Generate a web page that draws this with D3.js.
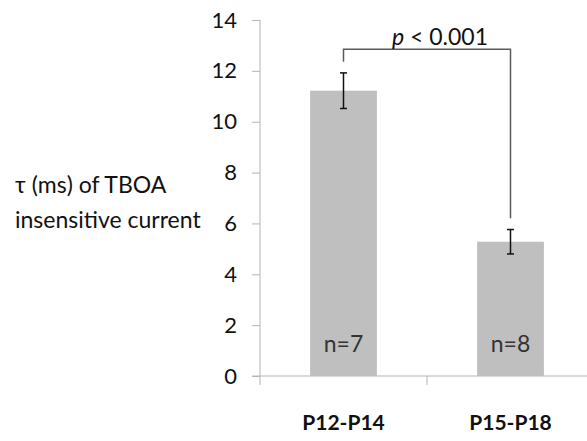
<!DOCTYPE html>
<html>
<head>
<meta charset="utf-8">
<script src="https://cdn.jsdelivr.net/npm/d3@7"></script>
<style>
  body { margin: 0; background: #fff; }
  text { font-family: Lato, "Open Sans", sans-serif; }
</style>
</head>
<body>
<div id="chart"></div>
<script>
const categories = ['P12-P14', 'P15-P18'];
const means = [11.22, 5.28];
const errors = [0.7, 0.48];
const counts = ['n=7', 'n=8'];
const yTicks = [0, 2, 4, 6, 8, 10, 12, 14];
const bracketLevel = 12.85;
const bracketLegEnds = [12.36, 6.2];
const pLabel = '< 0.001';

const width = 587, height = 441;
const barColor = '#bfbfbf';
const axisColor = '#b4b4b4';
const textColor = '#111';

const svg = d3.select('#chart').append('svg')
  .attr('width', width)
  .attr('height', height);

const x = d3.scaleBand()
  .domain(categories)
  .range([260, 594])
  .padding(0);

const y = d3.scaleLinear()
  .domain([0, 14])
  .range([376, 20]);

const barW = x.bandwidth() * 0.4;
const cx = d => x(d) + x.bandwidth() / 2;

// Y-axis
const yAxis = svg.append('g')
  .attr('transform', 'translate(260,0)')
  .call(d3.axisLeft(y).tickValues(yTicks).tickSize(8).tickPadding(15).tickSizeOuter(0));
yAxis.select('.domain').remove();
yAxis.selectAll('line').attr('stroke', axisColor);
yAxis.selectAll('text')
  .attr('fill', textColor)
  .style('font-size', '22px');
yAxis.append('line')
  .attr('x1', 0).attr('x2', 0)
  .attr('y1', y(14)).attr('y2', y(0) + 9)
  .attr('stroke', axisColor);

// X-axis with ticks at band boundaries
const xAxis = svg.append('g')
  .attr('transform', `translate(0,${y(0)})`);
xAxis.append('line')
  .attr('x1', 252).attr('x2', 594)
  .attr('stroke', axisColor);
xAxis.selectAll('.bt')
  .data(categories)
  .join('line')
  .attr('class', 'bt')
  .attr('x1', d => x(d) + x.bandwidth()).attr('x2', d => x(d) + x.bandwidth())
  .attr('y1', 0).attr('y2', 9)
  .attr('stroke', axisColor);
xAxis.selectAll('text')
  .data(categories)
  .join('text')
  .attr('x', d => cx(d))
  .attr('y', 54)
  .attr('text-anchor', 'middle')
  .attr('fill', textColor)
  .style('font-size', '21px')
  .style('font-weight', 'bold')
  .text(d => d);

// Bars
svg.append('g')
  .selectAll('rect')
  .data(categories)
  .join('rect')
  .attr('x', d => cx(d) - barW / 2)
  .attr('y', (d, i) => y(means[i]))
  .attr('width', barW)
  .attr('height', (d, i) => y(0) - y(means[i]))
  .attr('fill', barColor);

// n labels
svg.append('g')
  .selectAll('text')
  .data(categories)
  .join('text')
  .attr('x', d => cx(d))
  .attr('y', 352)
  .attr('text-anchor', 'middle')
  .attr('fill', '#333')
  .style('font-size', '23px')
  .text((d, i) => counts[i]);

// Error bars
const err = svg.append('g').attr('stroke', '#111').attr('stroke-width', 1.5);
categories.forEach((c, i) => {
  const px = cx(c);
  err.append('line')
    .attr('x1', px).attr('x2', px)
    .attr('y1', y(means[i] + errors[i])).attr('y2', y(means[i] - errors[i]));
  [means[i] + errors[i], means[i] - errors[i]].forEach(v => {
    err.append('line')
      .attr('x1', px - 3.5).attr('x2', px + 3.5)
      .attr('y1', y(v)).attr('y2', y(v));
  });
});

// Significance bracket
const bx1 = cx(categories[0]), bx2 = cx(categories[1]);
svg.append('path')
  .attr('d', `M${bx1},${y(bracketLegEnds[0])}V${y(bracketLevel)}H${bx2}V${y(bracketLegEnds[1])}`)
  .attr('fill', 'none')
  .attr('stroke', '#5a5a5a')
  .attr('stroke-width', 1.5);

const pText = svg.append('text')
  .attr('x', 440)
  .attr('y', 45)
  .attr('text-anchor', 'middle')
  .attr('fill', textColor)
  .style('font-size', '23px');
pText.append('tspan').style('font-style', 'italic').text('p');
pText.append('tspan').text(' ' + pLabel);

// Y-axis title
const title = svg.append('text')
  .attr('fill', textColor)
  .style('font-size', '23px');
title.append('tspan').attr('x', 15).attr('y', 193).text('τ (ms) of TBOA');
title.append('tspan').attr('x', 15).attr('y', 228).text('insensitive current');
</script>
</body>
</html>
